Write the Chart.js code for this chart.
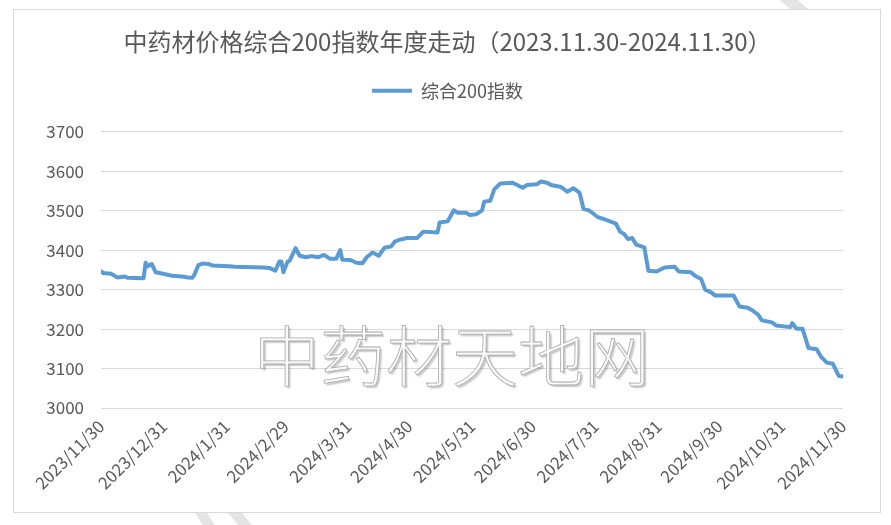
<!DOCTYPE html>
<html>
<head>
<meta charset="utf-8">
<script src="https://cdn.jsdelivr.net/npm/chart.js@4.4.1/dist/chart.umd.min.js"></script>
<style>
  html, body { margin: 0; padding: 0; background: #ffffff; }
  #wrap { width: 891px; height: 525px; }
</style>
</head>
<body>
<div id="wrap"><canvas id="c" width="891" height="525"></canvas></div>
<script>
// ---- data (day offset from 2023-11-30, index value) ----
const dayOffsets = [0,1,5,8,12,13,21,22,23,25,27,30,35,40,43,45,46,48,50,53,55,63,66,80,83,86,88,89,90,92,93,96,98,101,104,107,110,113,116,118,119,123,126,129,131,134,137,140,143,145,147,151,156,159,166,167,171,174,176,180,182,185,188,189,192,194,197,203,208,210,215,217,220,222,227,230,233,236,238,241,245,248,254,256,258,260,262,264,268,270,274,278,283,285,291,293,296,298,301,303,312,315,319,322,324,326,331,333,340,341,343,346,349,353,355,358,361,363,364,366];
const indexValues = [3347,3342,3340,3331,3333,3330,3329,3368,3359,3365,3344,3341,3335,3333,3331,3330,3337,3362,3366,3365,3361,3359,3358,3356,3355,3348,3371,3371,3344,3371,3373,3405,3386,3382,3385,3382,3388,3378,3378,3400,3376,3375,3368,3367,3382,3394,3386,3407,3409,3422,3426,3431,3431,3447,3445,3470,3473,3501,3495,3495,3489,3491,3501,3523,3525,3554,3569,3571,3558,3565,3567,3574,3571,3565,3560,3548,3557,3546,3505,3500,3484,3479,3467,3447,3441,3428,3431,3414,3407,3348,3346,3356,3358,3346,3344,3335,3327,3300,3293,3285,3285,3257,3254,3245,3237,3222,3217,3209,3205,3215,3201,3201,3152,3149,3131,3115,3112,3091,3081,3080];
const tickDays = [0,31,62,91,122,152,183,213,244,275,305,336,366];
const tickLabels = ['2023/11/30','2023/12/31','2024/1/31','2024/2/29','2024/3/31','2024/4/30','2024/5/31','2024/6/30','2024/7/31','2024/8/31','2024/9/30','2024/10/31','2024/11/30'];
const yTicks = [3000,3100,3200,3300,3400,3500,3600,3700];
const seriesName = '综合200指数';
const titleText = '中药材价格综合200指数年度走动（2023.11.30-2024.11.30）';
const watermarkText = '中药材天地网';

const FONT = "'Noto Sans CJK SC', 'Noto Sans', sans-serif";
const TEXT = '#595959';
Chart.defaults.font.family = FONT;
Chart.defaults.color = TEXT;

const points = dayOffsets.map((d, i) => ({ x: d, y: indexValues[i] }));

const frame = {
  id: 'frame',
  beforeDraw(chart) {
    const ctx = chart.ctx;
    ctx.save();
    ctx.fillStyle = '#ffffff';
    ctx.fillRect(0, 0, chart.width, chart.height);
    ctx.fillStyle = '#e4e4e4';
    const polys = [
      [[780,0],[798,0],[808,9],[790,9]],
      [[195,513],[207,513],[215,525],[203,525]],
      [[228,513],[242,513],[252,525],[238,525]]
    ];
    polys.forEach(p => {
      ctx.beginPath();
      ctx.moveTo(p[0][0], p[0][1]);
      for (let i = 1; i < p.length; i++) ctx.lineTo(p[i][0], p[i][1]);
      ctx.closePath();
      ctx.fill();
    });
    ctx.strokeStyle = '#d9d9d9';
    ctx.lineWidth = 1;
    ctx.strokeRect(13.5, 9.5, 867, 503);
    ctx.restore();
  }
};

const headerLayout = {
  id: 'headerLayout',
  beforeLayout(chart) {
    const lg = chart.legend;
    if (lg && !lg.__spaced) {
      const orig = lg.fit;
      lg.fit = function () { orig.call(this); this.height += 22; };
      lg.__spaced = true;
    }
  },
  afterLayout(chart) {
    const shift = 16;
    [chart.titleBlock, chart.legend].forEach(b => {
      if (b) { b.left += shift; b.right += shift; }
    });
  }
};

const watermark = {
  id: 'watermark',
  afterDraw(chart) {
    const ctx = chart.ctx;
    ctx.save();
    ctx.font = "300 66px " + FONT;
    ctx.textAlign = 'center';
    ctx.textBaseline = 'middle';
    ctx.shadowColor = 'rgba(0,0,0,0.22)';
    ctx.shadowOffsetX = 2; ctx.shadowOffsetY = 2; ctx.shadowBlur = 1.5;
    ctx.fillStyle = '#fafafa';
    ctx.fillText(watermarkText, 452, 356);
    ctx.shadowColor = 'rgba(0,0,0,0)';
    ctx.strokeStyle = '#aaaaaa';
    ctx.lineWidth = 0.8;
    ctx.strokeText(watermarkText, 452, 356);
    ctx.restore();
  }
};

new Chart(document.getElementById('c'), {
  type: 'line',
  data: {
    datasets: [{
      label: seriesName,
      data: points,
      borderColor: '#5B9BD5',
      backgroundColor: '#5B9BD5',
      borderWidth: 4,
      borderCapStyle: 'round',
      borderJoinStyle: 'round',
      pointRadius: 0,
      pointHoverRadius: 0,
      tension: 0,
      fill: false
    }]
  },
  options: {
    responsive: false,
    animation: false,
    devicePixelRatio: 1,
    layout: { padding: { left: 20, right: 48, top: 0, bottom: 17 } },
    plugins: {
      title: {
        display: true,
        text: titleText,
        color: TEXT,
        font: { size: 24, weight: 'normal' },
        padding: { top: 27, bottom: 16 }
      },
      legend: {
        display: true,
        labels: {
          usePointStyle: true,
          pointStyle: 'line',
          pointStyleWidth: 40,
          color: TEXT,
          font: { size: 18 },
          padding: 10
        }
      },
      tooltip: { enabled: false }
    },
    scales: {
      x: {
        type: 'linear',
        min: 0,
        max: 366,
        grid: { display: false, drawTicks: false },
        border: { display: false },
        afterBuildTicks(scale) { scale.ticks = tickDays.map(v => ({ value: v })); },
        afterFit(scale) { scale.height = 100; },
        ticks: {
          autoSkip: false,
          maxRotation: 45,
          minRotation: 45,
          padding: 8,
          color: TEXT,
          font: { size: 17 },
          callback: (v) => { const i = tickDays.indexOf(v); return i >= 0 ? tickLabels[i] : ''; }
        }
      },
      y: {
        min: 3000,
        max: 3700,
        grid: { color: '#d9d9d9', lineWidth: 1, drawTicks: false },
        border: { display: false },
        afterBuildTicks(scale) { scale.ticks = yTicks.map(v => ({ value: v })); },
        afterFit(scale) { scale.width = 81; },
        ticks: {
          padding: 17,
          color: TEXT,
          font: { size: 17 },
          callback: (v) => String(v)
        }
      }
    }
  },
  plugins: [frame, headerLayout, watermark]
});
</script>
</body>
</html>
